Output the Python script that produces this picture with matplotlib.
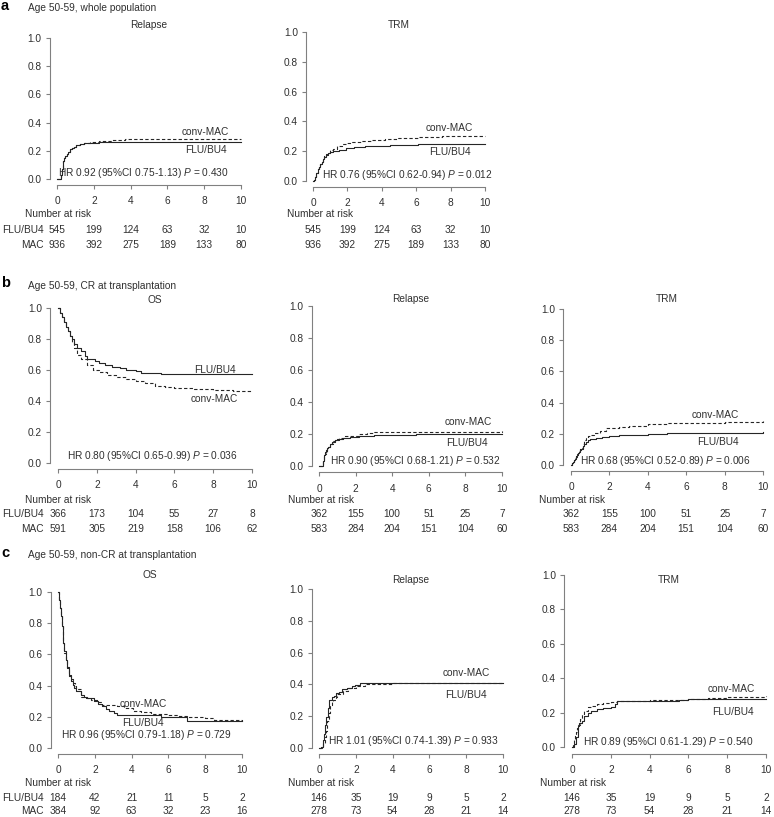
import matplotlib
matplotlib.use("Agg")
import matplotlib.pyplot as plt
from matplotlib.transforms import blended_transform_factory

plt.rcParams["font.family"] = ["Liberation Sans", "DejaVu Sans"]
plt.rcParams["mathtext.fontset"] = "custom"
plt.rcParams["mathtext.rm"] = "Liberation Sans"
plt.rcParams["mathtext.it"] = "Liberation Sans:italic"

# ---- data (years vs probability) ----
RISK_T = [0, 2, 4, 6, 8, 10]

# a: whole population
a_rel_flu_t = [0, 0.15, 0.2, 0.25, 0.3, 0.35, 0.4, 0.45, 0.52, 0.6, 0.7, 0.8, 0.9, 1.05, 1.25, 1.45, 1.8, 2.3, 10]
a_rel_flu_y = [0, 0, 0.03, 0.07, 0.11, 0.13, 0.15, 0.165, 0.18, 0.195, 0.21, 0.22, 0.228, 0.238, 0.248, 0.255,
               0.258, 0.262, 0.262]
a_rel_mac_t = [0, 0.15, 0.2, 0.25, 0.3, 0.35, 0.4, 0.45, 0.52, 0.6, 0.7, 0.8, 0.9, 1.05, 1.25, 1.45, 1.8, 2.3, 3,
               3.7, 5.7, 10]
a_rel_mac_y = [0, 0, 0.03, 0.07, 0.11, 0.13, 0.15, 0.165, 0.18, 0.195, 0.21, 0.22, 0.228, 0.238, 0.248, 0.255, 0.26,
               0.267, 0.275, 0.283, 0.287, 0.287]
a_trm_flu_t = [0, 0.05, 0.1, 0.15, 0.2, 0.29, 0.35, 0.43, 0.5, 0.57, 0.65, 0.75, 0.86, 1.0, 1.14, 1.5, 1.9, 2.4,
               3.05, 4.5, 6.1, 10]
a_trm_flu_y = [0, 0.01, 0.025, 0.04, 0.055, 0.08, 0.095, 0.115, 0.13, 0.148, 0.162, 0.175, 0.186, 0.194, 0.2, 0.21,
               0.22, 0.227, 0.232, 0.24, 0.248, 0.248]
a_trm_mac_t = [0, 0.05, 0.1, 0.15, 0.2, 0.29, 0.35, 0.43, 0.5, 0.57, 0.65, 0.75, 0.86, 1.0, 1.14, 1.4, 1.71, 2.0,
               2.29, 2.8, 3.4, 4.2, 4.95, 6.1, 7.5, 10]
a_trm_mac_y = [0, 0.01, 0.025, 0.04, 0.055, 0.08, 0.095, 0.115, 0.13, 0.15, 0.165, 0.178, 0.19, 0.205, 0.216, 0.235,
               0.25, 0.258, 0.264, 0.27, 0.277, 0.284, 0.29, 0.295, 0.3, 0.303]
a_risk_flu = [545, 199, 124, 63, 32, 10]
a_risk_mac = [936, 392, 275, 189, 133, 80]

# b: CR at transplantation
b_os_flu_t = [0, 0.1, 0.2, 0.3, 0.4, 0.5, 0.6, 0.7, 0.85, 1.0, 1.2, 1.4, 1.5, 1.9, 2.1, 2.4, 2.8, 3.2, 3.5, 4.0,
              4.3, 5.3, 10]
b_os_flu_y = [1, 0.97, 0.94, 0.91, 0.88, 0.85, 0.82, 0.8, 0.77, 0.745, 0.72, 0.69, 0.67, 0.66, 0.645, 0.63, 0.62,
              0.61, 0.6, 0.595, 0.58, 0.575, 0.575]
b_os_mac_t = [0, 0.1, 0.2, 0.3, 0.4, 0.5, 0.6, 0.7, 0.8, 1.0, 1.2, 1.5, 1.8, 2.1, 2.5, 3, 3.5, 4, 4.5, 5, 5.5, 6, 7,
              8, 9, 10]
b_os_mac_y = [1, 0.97, 0.94, 0.91, 0.88, 0.85, 0.82, 0.78, 0.74, 0.7, 0.67, 0.63, 0.6, 0.585, 0.57, 0.555, 0.54,
              0.53, 0.515, 0.5, 0.49, 0.485, 0.48, 0.47, 0.465, 0.465]
b_rel_flu_t = [0, 0.15, 0.2, 0.25, 0.3, 0.35, 0.4, 0.45, 0.5, 0.6, 0.7, 0.85, 1.0, 1.3, 1.7, 2.2, 2.6, 3, 5.3, 10]
b_rel_flu_y = [0, 0, 0.03, 0.05, 0.07, 0.085, 0.1, 0.11, 0.12, 0.14, 0.15, 0.16, 0.17, 0.178, 0.182, 0.185, 0.19,
               0.195, 0.198, 0.2]
b_rel_mac_t = [0, 0.15, 0.2, 0.25, 0.3, 0.35, 0.4, 0.45, 0.5, 0.6, 0.75, 0.9, 1.1, 1.4, 1.8, 2.2, 2.6, 3, 10]
b_rel_mac_y = [0, 0, 0.03, 0.045, 0.06, 0.075, 0.09, 0.105, 0.12, 0.14, 0.155, 0.165, 0.175, 0.185, 0.19, 0.2,
               0.205, 0.21, 0.218]
b_trm_flu_t = [0, 0.05, 0.1, 0.15, 0.2, 0.25, 0.3, 0.35, 0.4, 0.45, 0.5, 0.6, 0.7, 0.8, 0.9, 1.0, 1.3, 1.6, 2.0,
               2.5, 3, 4, 5, 6, 10]
b_trm_flu_y = [0, 0.01, 0.02, 0.03, 0.04, 0.052, 0.065, 0.075, 0.085, 0.093, 0.1, 0.12, 0.135, 0.15, 0.158, 0.165,
               0.175, 0.18, 0.185, 0.19, 0.195, 0.2, 0.205, 0.207, 0.21]
b_trm_mac_t = [0, 0.05, 0.1, 0.15, 0.2, 0.25, 0.3, 0.35, 0.4, 0.45, 0.5, 0.6, 0.7, 0.8, 0.9, 1.0, 1.2, 1.5, 1.8,
               2.0, 2.5, 3, 4, 5, 6, 8, 10]
b_trm_mac_y = [0, 0.01, 0.02, 0.032, 0.045, 0.057, 0.07, 0.08, 0.09, 0.1, 0.11, 0.135, 0.16, 0.175, 0.183, 0.19,
               0.205, 0.22, 0.235, 0.24, 0.245, 0.25, 0.26, 0.27, 0.272, 0.275, 0.283]
b_os_risk_flu = [366, 173, 104, 55, 27, 8]
b_os_risk_mac = [591, 305, 219, 158, 106, 62]
b_risk_flu = [362, 155, 100, 51, 25, 7]
b_risk_mac = [583, 284, 204, 151, 104, 60]

# c: non-CR at transplantation
c_os_flu_t = [0, 0.05, 0.1, 0.14, 0.2, 0.25, 0.29, 0.35, 0.42, 0.5, 0.6, 0.7, 0.8, 0.87, 1.0, 1.23, 1.4, 1.59,
              1.96, 2.2, 2.41, 2.6, 2.77, 3.04, 3.19, 5.6, 7.0, 10]
c_os_flu_y = [1, 0.95, 0.9, 0.844, 0.78, 0.72, 0.673, 0.62, 0.566, 0.52, 0.459, 0.43, 0.405, 0.385, 0.365, 0.342,
              0.33, 0.32, 0.3, 0.285, 0.267, 0.25, 0.235, 0.225, 0.214, 0.2, 0.175, 0.172]
c_os_mac_t = [0, 0.05, 0.1, 0.14, 0.2, 0.25, 0.29, 0.35, 0.42, 0.5, 0.6, 0.7, 0.8, 0.9, 1.0, 1.23, 1.5, 1.78, 2.1,
              2.41, 3.2, 3.6, 4.1, 4.5, 5.04, 5.5, 6, 6.5, 7, 8, 8.5, 10]
c_os_mac_y = [1, 0.95, 0.9, 0.844, 0.78, 0.72, 0.67, 0.61, 0.56, 0.51, 0.47, 0.44, 0.415, 0.395, 0.38, 0.33, 0.32,
              0.31, 0.295, 0.278, 0.267, 0.255, 0.24, 0.23, 0.218, 0.215, 0.21, 0.205, 0.2, 0.19, 0.18, 0.175]
c_rel_flu_t = [0, 0.13, 0.2, 0.26, 0.33, 0.4, 0.47, 0.55, 0.68, 0.8, 0.95, 1.1, 1.23, 1.5, 1.8, 1.96, 2.23, 10]
c_rel_flu_y = [0, 0.006, 0.05, 0.09, 0.145, 0.196, 0.25, 0.3, 0.32, 0.33, 0.343, 0.355, 0.368, 0.375, 0.388, 0.396,
               0.406, 0.41]
c_rel_mac_t = [0, 0.15, 0.22, 0.3, 0.37, 0.45, 0.52, 0.59, 0.68, 0.77, 0.9, 1.0, 1.3, 1.6, 2.0, 2.5, 3.0, 4, 10]
c_rel_mac_y = [0, 0.005, 0.03, 0.07, 0.11, 0.17, 0.22, 0.27, 0.29, 0.3, 0.32, 0.34, 0.36, 0.375, 0.39, 0.4, 0.405,
               0.41, 0.41]
c_trm_flu_t = [0, 0.1, 0.2, 0.3, 0.35, 0.5, 0.6, 0.8, 1.0, 1.3, 1.6, 2.0, 2.2, 2.3, 4, 5.5, 6, 10]
c_trm_flu_y = [0, 0.02, 0.06, 0.12, 0.14, 0.15, 0.18, 0.2, 0.21, 0.22, 0.225, 0.235, 0.25, 0.265, 0.27, 0.275, 0.28,
               0.28]
c_trm_mac_t = [0, 0.05, 0.1, 0.15, 0.2, 0.25, 0.3, 0.4, 0.5, 0.6, 0.8, 1.0, 1.3, 1.6, 2.0, 2.3, 3, 4, 5, 6, 7, 8, 10]
c_trm_mac_y = [0, 0.02, 0.04, 0.065, 0.09, 0.11, 0.13, 0.16, 0.19, 0.21, 0.23, 0.24, 0.25, 0.255, 0.26, 0.265, 0.27,
               0.272, 0.275, 0.28, 0.285, 0.29, 0.295]
c_os_risk_flu = [184, 42, 21, 11, 5, 2]
c_os_risk_mac = [384, 92, 63, 32, 23, 16]
c_risk_flu = [146, 35, 19, 9, 5, 2]
c_risk_mac = [278, 73, 54, 28, 21, 14]

HR_TEXT = {
    "a_rel": ("0.92", "0.75-1.13", "0.430"), "a_trm": ("0.76", "0.62-0.94", "0.012"),
    "b_os": ("0.80", "0.65-0.99", "0.036"), "b_rel": ("0.90", "0.68-1.21", "0.532"),
    "b_trm": ("0.68", "0.52-0.89", "0.006"), "c_os": ("0.96", "0.79-1.18", "0.729"),
    "c_rel": ("1.01", "0.74-1.39", "0.933"), "c_trm": ("0.89", "0.61-1.29", "0.540"),
}

# ---- layout (pixel positions measured on the 774x817 original) ----
W, H = 774, 817
FS = 7.3
INK = "#303030"
AXC = "#808080"
CURVE = "#262626"

# key, title, curves, risk, x0, x10, y0, y1, title_y, hr(x,y), conv-MAC(x,y), FLU(x,y), nar_left, row ys, row names?
PANELS = [
    ("a_rel", "Relapse", (a_rel_flu_t, a_rel_flu_y, a_rel_mac_t, a_rel_mac_y), (a_risk_flu, a_risk_mac),
     57, 241, 179, 38, 25, (143, 173), (205, 132), (206, 150), 25, (214, 230, 245), True),
    ("a_trm", "TRM", (a_trm_flu_t, a_trm_flu_y, a_trm_mac_t, a_trm_mac_y), (a_risk_flu, a_risk_mac),
     313, 485, 181, 32, 25, (407, 175), (449, 128), (450, 152), 287, (214, 230, 245), False),
    ("b_os", "OS", (b_os_flu_t, b_os_flu_y, b_os_mac_t, b_os_mac_y), (b_os_risk_flu, b_os_risk_mac),
     58, 252, 463, 308, 300, (152, 456), (214, 399), (215, 370), 25, (500, 514, 529), True),
    ("b_rel", "Relapse", (b_rel_flu_t, b_rel_flu_y, b_rel_mac_t, b_rel_mac_y), (b_risk_flu, b_risk_mac),
     319, 502, 466, 306, 299, (415, 461), (468, 422), (467, 443), 288, (500, 514, 529), False),
    ("b_trm", "TRM", (b_trm_flu_t, b_trm_flu_y, b_trm_mac_t, b_trm_mac_y), (b_risk_flu, b_risk_mac),
     571, 763, 465, 309, 299, (665, 461), (715, 415), (718, 442), 539, (500, 514, 529), False),
    ("c_os", "OS", (c_os_flu_t, c_os_flu_y, c_os_mac_t, c_os_mac_y), (c_os_risk_flu, c_os_risk_mac),
     58, 242, 748, 592, 575, (146, 735), (143, 704), (143, 723), 25, (783, 798, 811), True),
    ("c_rel", "Relapse", (c_rel_flu_t, c_rel_flu_y, c_rel_mac_t, c_rel_mac_y), (c_risk_flu, c_risk_mac),
     319, 503, 748, 589, 580, (413, 741), (466, 673), (466, 695), 288, (783, 798, 811), False),
    ("c_trm", "TRM", (c_trm_flu_t, c_trm_flu_y, c_trm_mac_t, c_trm_mac_y), (c_risk_flu, c_risk_mac),
     572, 766, 747, 575, 580, (668, 742), (731, 689), (733, 712), 540, (783, 798, 811), False),
]

SECTIONS = [("a", "Age 50-59, whole population", 6, 8),
            ("b", "Age 50-59, CR at transplantation", 283, 286),
            ("c", "Age 50-59, non-CR at transplantation", 553, 555)]


def fx(px):
    return px / W


def fy(py):
    return 1 - py / H


fig = plt.figure(figsize=(W / 100, H / 100), dpi=100)

for letter, sub, ly, sy in SECTIONS:
    fig.text(fx(1), fy(ly), letter, fontsize=10.5, fontweight="bold", ha="left", va="center", color="black")
    fig.text(fx(28), fy(sy), sub, fontsize=FS, ha="left", va="center", color=INK)

for (key, title, curves, risk, x0, x10, y0, y1, ty, hr_xy, mac_xy, flu_xy,
     nar_x, rows, names) in PANELS:
    hs, vs = x10 - x0, y0 - y1
    left, bot = x0 - 0.04 * hs, y0 + 0.04 * vs
    ax = fig.add_axes([fx(left), fy(bot), 1.08 * hs / W, 1.08 * vs / H])
    ax.set_xlim(-0.4, 10.4)
    ax.set_ylim(-0.04, 1.04)
    for s in ("top", "right"):
        ax.spines[s].set_visible(False)
    ax.spines["left"].set_bounds(0, 1)
    ax.spines["bottom"].set_bounds(0, 10)
    for s in ("left", "bottom"):
        ax.spines[s].set_color(AXC)
        ax.spines[s].set_linewidth(0.8)
    ax.set_xticks(RISK_T)
    ax.set_yticks([0, 0.2, 0.4, 0.6, 0.8, 1.0])
    ax.set_yticklabels(["0.0", "0.2", "0.4", "0.6", "0.8", "1.0"])
    ax.tick_params(length=3, width=0.8, color=AXC, labelsize=FS, labelcolor=INK)
    ax.tick_params(axis="x", pad=5)
    ax.tick_params(axis="y", pad=3)

    ft, fyv, mt, myv = curves
    ax.step(ft, fyv, where="post", color=CURVE, lw=0.8)
    ax.step(mt, myv, where="post", color=CURVE, lw=0.8, ls=(0, (3, 2)))

    fig.text(fx((x0 + x10) / 2), fy(ty), title, fontsize=FS, ha="center", va="center", color=INK)
    hr, ci, p = HR_TEXT[key]
    fig.text(fx(hr_xy[0]), fy(hr_xy[1]), f"HR {hr} (95%CI {ci}) $\\it{{P}}$ = {p}",
             fontsize=FS, ha="center", va="center", color=INK)
    fig.text(fx(mac_xy[0]), fy(mac_xy[1]), "conv-MAC", fontsize=FS, ha="center", va="center", color=INK)
    fig.text(fx(flu_xy[0]), fy(flu_xy[1]), "FLU/BU4", fontsize=FS, ha="center", va="center", color=INK)

    fig.text(fx(nar_x), fy(rows[0]), "Number at risk", fontsize=FS, ha="left", va="center", color=INK)
    trans = blended_transform_factory(ax.transData, fig.transFigure)
    for vals, ry in zip(risk, rows[1:]):
        for t, n in zip(RISK_T, vals):
            ax.text(t, fy(ry), str(n), transform=trans, fontsize=FS, ha="center", va="center",
                    color=INK, clip_on=False)
    if names:
        fig.text(fx(44), fy(rows[1]), "FLU/BU4", fontsize=FS, ha="right", va="center", color=INK)
        fig.text(fx(44), fy(rows[2]), "MAC", fontsize=FS, ha="right", va="center", color=INK)

fig.savefig("out.png", dpi=100, facecolor="white")
